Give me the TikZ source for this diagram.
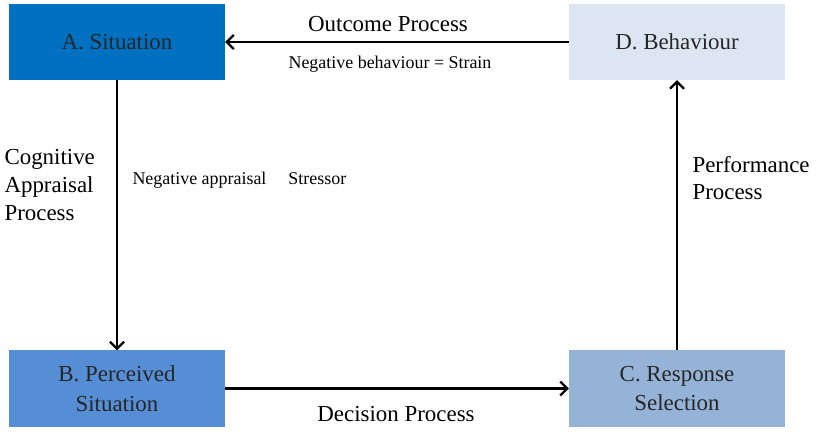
\documentclass[tikz,border=0pt]{standalone}
\usepackage{fontspec}
\setmainfont{Liberation Serif}
\newfontfamily\timesfont{Liberation Serif}
\usepackage{tikz}
\usetikzlibrary{arrows.meta}
\definecolor{boxA}{RGB}{0,112,192}
\definecolor{boxB}{RGB}{85,142,213}
\definecolor{boxC}{RGB}{149,179,215}
\definecolor{boxD}{RGB}{220,230,242}

\begin{document}
\begin{tikzpicture}[x=1bp,y=-1bp,
    stagebox/.style={minimum width=216bp,minimum height=76bp,inner sep=0pt,
      align=center,font=\timesfont\fontsize{23}{30}\selectfont,text=black!85},
    flow/.style={line width=2.2bp,-{Straight Barb[length=7bp,width=14bp]}},
    proclabel/.style={font=\timesfont\fontsize{23}{28}\selectfont},
    notelabel/.style={font=\timesfont\fontsize{18}{20}\selectfont}]

      \useasboundingbox (0,0) rectangle (819,440);

      \node [stagebox,fill=boxA] (sit) at (117,42) {A. Situation};
      \node [stagebox,fill=boxD] (beh) at (677,42) {D. Behaviour};
      \node [stagebox,fill=boxB] (perc) at (117,388.5) {B. Perceived\\Situation};
      \node [stagebox,fill=boxC] (resp) at (677,388.5) {C. Response\\Selection};

      \draw [flow] (beh) -- (sit);
      \draw [flow] (sit) -- (perc);
      \draw [flow] (perc) -- (resp);
      \draw [flow] (resp) -- (beh);

      \node [proclabel] (outcome) at (388,24) {Outcome Process};
      \node [notelabel] (strain) at (390,64) {Negative behaviour = Strain};
      \node [proclabel,align=left,anchor=west] (cogn) at (1,185) {Cognitive\\Appraisal\\Process};
      \node [notelabel,anchor=west] (stress) at (129,180) {Negative appraisal\hspace{22bp}Stressor};
      \node [proclabel,align=left,anchor=west] (perf) at (689,178) {Performance\\Process};
      \node [proclabel] (decision) at (396,414) {Decision Process};

\end{tikzpicture}
\end{document}
